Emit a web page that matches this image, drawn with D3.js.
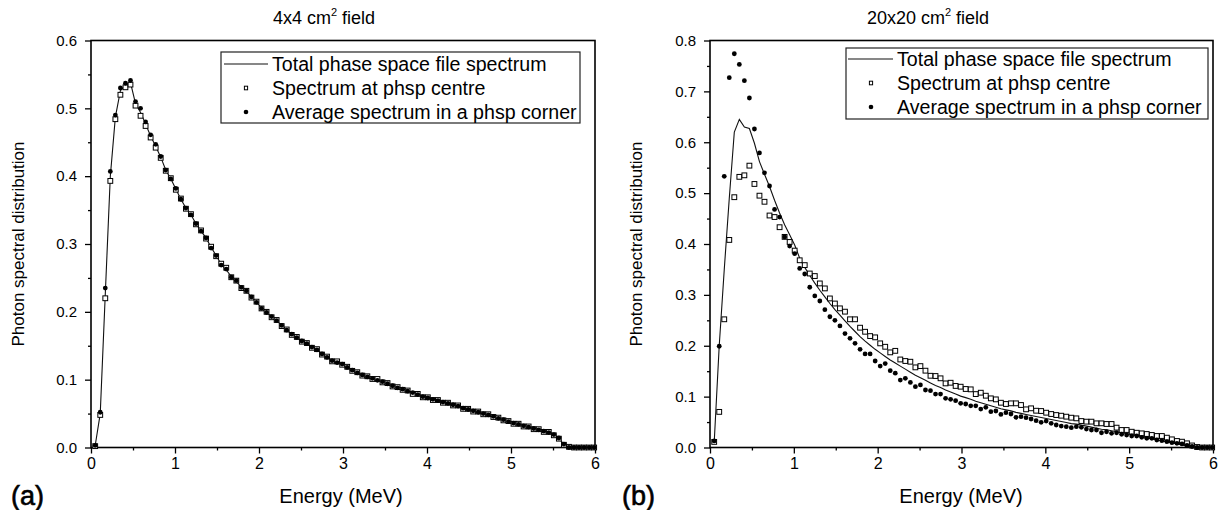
<!DOCTYPE html>
<html><head><meta charset="utf-8">
<script src="https://cdn.jsdelivr.net/npm/d3@7"></script>
<style>
body{margin:0;background:#fff}
svg{display:block}
text{font-family:"Liberation Sans",Arial,Helvetica,sans-serif;fill:#000}
</style>
</head><body>
<svg id="chart" width="1219" height="510"></svg>
<script>
// ---------------- DATA ----------------
const energy = [0.05,0.11,0.17,0.23,0.29,0.35,0.41,0.47,0.53,0.59,0.65,0.71,0.77,0.83,0.89,0.95,1.01,1.07,1.13,1.19,
1.25,1.31,1.37,1.43,1.49,1.55,1.61,1.67,1.73,1.79,1.85,1.91,1.97,2.03,2.09,2.15,2.21,2.27,2.33,2.39,
2.45,2.51,2.57,2.63,2.69,2.75,2.81,2.87,2.93,2.99,3.05,3.11,3.17,3.23,3.29,3.35,3.41,3.47,3.53,3.59,
3.65,3.71,3.77,3.83,3.89,3.95,4.01,4.07,4.13,4.19,4.25,4.31,4.37,4.43,4.49,4.55,4.61,4.67,4.73,4.79,
4.85,4.91,4.97,5.03,5.09,5.15,5.21,5.27,5.33,5.39,5.45,5.51,5.57,5.63,5.69,5.75,5.81,5.87,5.93,5.99];

// (a) 4x4 cm2 field
const leftTotal = [0.003,0.050,0.226,0.400,0.487,0.526,0.534,0.538,0.507,0.494,
0.477,0.459,0.444,0.428,0.409,0.396,0.381,0.366,0.353,0.343,
0.330,0.319,0.309,0.295,0.283,0.270,0.262,0.252,0.245,0.236,
0.230,0.222,0.214,0.206,0.199,0.193,0.187,0.180,0.173,0.167,
0.162,0.157,0.153,0.148,0.144,0.138,0.133,0.128,0.126,0.123,
0.118,0.114,0.110,0.107,0.104,0.102,0.100,0.097,0.094,0.091,
0.088,0.086,0.083,0.080,0.078,0.075,0.073,0.071,0.069,0.067,
0.065,0.063,0.061,0.058,0.056,0.054,0.052,0.050,0.048,0.046,
0.043,0.041,0.038,0.036,0.034,0.032,0.030,0.028,0.026,0.024,
0.022,0.019,0.014,0.004,0,0,0,0,0,0];
const leftCentre = [0.002,0.048,0.220,0.393,0.484,0.520,0.531,0.535,0.504,0.489,
0.474,0.457,0.442,0.427,0.408,0.397,0.380,0.367,0.352,0.344,
0.329,0.320,0.308,0.296,0.282,0.271,0.265,0.251,0.246,0.235,
0.231,0.221,0.215,0.205,0.200,0.192,0.188,0.179,0.174,0.166,
0.163,0.156,0.154,0.147,0.145,0.137,0.134,0.127,0.127,0.122,
0.119,0.113,0.111,0.106,0.105,0.101,0.101,0.096,0.095,0.090,
0.089,0.085,0.084,0.079,0.079,0.074,0.074,0.070,0.070,0.066,
0.066,0.062,0.062,0.057,0.057,0.053,0.053,0.049,0.049,0.045,
0.044,0.040,0.039,0.035,0.035,0.031,0.031,0.027,0.027,0.023,
0.023,0.018,0.013,0.004,0.001,0,0,0,0,0];
const leftCorner = [0.003,0.052,0.235,0.407,0.490,0.530,0.537,0.541,0.510,0.500,
0.480,0.461,0.447,0.429,0.409,0.396,0.382,0.366,0.353,0.343,
0.330,0.319,0.309,0.294,0.283,0.269,0.263,0.251,0.246,0.236,
0.231,0.222,0.214,0.205,0.199,0.193,0.187,0.180,0.173,0.167,
0.162,0.157,0.153,0.148,0.144,0.138,0.133,0.128,0.125,0.123,
0.118,0.114,0.110,0.107,0.104,0.102,0.099,0.097,0.094,0.091,
0.088,0.086,0.083,0.081,0.078,0.075,0.073,0.071,0.069,0.067,
0.065,0.063,0.061,0.058,0.056,0.054,0.052,0.050,0.048,0.046,
0.043,0.041,0.038,0.036,0.034,0.032,0.030,0.028,0.026,0.024,
0.022,0.019,0.014,0.005,0,0,0,0,0,0];

// (b) 20x20 cm2 field
const rightTotal = [0.010,0.200,0.350,0.490,0.620,0.645,0.630,0.627,0.598,0.562,
0.537,0.513,0.486,0.461,0.438,0.418,0.398,
0.372,0.354,0.338,0.323,0.309,0.296,0.283,0.271,0.260,0.249,0.238,0.228,0.218,0.209,0.201,0.193,0.186,0.179,0.172,0.166,
0.160,0.154,0.148,0.142,0.137,0.132,0.127,0.122,0.118,0.113,0.109,0.105,0.101,0.098,0.095,0.091,0.088,0.085,0.082,0.079,
0.076,0.074,0.072,0.069,0.067,0.065,0.063,0.061,0.059,0.057,0.055,0.053,0.051,0.049,0.047,0.046,0.044,0.042,0.040,0.038,
0.036,0.035,0.033,0.031,0.029,0.027,0.025,0.023,0.021,0.019,0.017,0.015,0.013,0.011,0.009,0.007,0.005,0.003,0.001,0,0,0,0];
const rightCentre = [0.011,0.070,0.252,0.408,0.492,0.532,0.535,0.554,0.518,0.495,
0.483,0.456,0.453,0.433,0.414,0.404,0.387,
0.368,0.3585,0.342,0.337,0.3225,0.3127,0.293,0.283,0.2735,0.267,0.252,0.252,0.2355,0.2275,0.219,0.2165,0.2047,0.198,0.187,0.190,
0.173,0.170,0.1686,0.1575,0.160,0.151,0.141,0.1405,0.136,0.126,0.1273,0.121,0.1195,0.115,0.1143,0.105,0.1077,0.1018,0.0966,0.0946,
0.088,0.0855,0.0868,0.0868,0.0835,0.075,0.077,0.0723,0.0717,0.0684,0.0658,0.0638,0.0625,0.0606,0.0586,0.0573,0.052,0.0508,0.0508,0.0475,
0.0475,0.0462,0.0462,0.039,0.0344,0.0344,0.031,0.029,0.0278,0.0265,0.0246,0.0226,0.0226,0.0193,0.016,0.0128,0.0114,0.0082,
0.004,0.001,0,0,0];
const rightCorner = [0.013,0.199,0.533,0.727,0.774,0.753,0.721,0.687,0.626,0.579,
0.540,0.514,0.468,0.453,0.414,0.396,0.381,
0.352,0.341,0.315,0.298,0.288,0.271,0.257,0.250,0.239,0.224,0.2145,0.2047,0.193,0.184,0.184,0.170,0.160,0.165,0.151,0.146,
0.1326,0.136,0.128,0.1195,0.123,0.113,0.1116,0.105,0.105,0.0966,0.0946,0.092,0.0868,0.0855,0.082,0.082,0.0756,0.079,0.0704,0.0717,
0.065,0.0684,0.0658,0.0593,0.0606,0.0586,0.056,0.0527,0.0495,0.052,0.0475,0.0442,0.0422,0.041,0.039,0.041,0.0396,0.0363,0.0344,0.0344,
0.029,0.031,0.0278,0.029,0.026,0.0246,0.0226,0.0226,0.020,0.018,0.018,0.0147,0.0134,0.0114,0.0095,0.0082,0.007,
0.004,0.002,0,0,0,0];

const xTicks = [0,1,2,3,4,5,6];
const xMinorTicks = [0.5,1.5,2.5,3.5,4.5,5.5];
const leftYTicks = [0,0.1,0.2,0.3,0.4,0.5,0.6];
const leftYMinor = [0.05,0.15,0.25,0.35,0.45,0.55];
const rightYTicks = [0,0.1,0.2,0.3,0.4,0.5,0.6,0.7,0.8];
const rightYMinor = [0.05,0.15,0.25,0.35,0.45,0.55,0.65,0.75];
const legendLabels = ["Total phase space file spectrum","Spectrum at phsp centre","Average spectrum in a phsp corner"];
const titles = [["4x4 cm","2"," field"],["20x20 cm","2"," field"]];
const panelTags = ["(a)","(b)"];
const xLabel = "Energy (MeV)";
const yLabel = "Photon spectral distribution";

// ---------------- LAYOUT ----------------
const panels = [
  {x0:91, x1:595, yMax:0.6, yTicks:leftYTicks, yMinor:leftYMinor,
   total:leftTotal, centre:leftCentre, corner:leftCorner,
   title:titles[0], titleX:324, yLabX:18, tag:panelTags[0], tagX:11, xLabX:341,
   leg:{x:221, y:52, w:359, h:71, lx0:224, lx1:268, mx:246, tx:272, rows:[64,88,112]}},
  {x0:710, x1:1213, yMax:0.8, yTicks:rightYTicks, yMinor:rightYMinor,
   total:rightTotal, centre:rightCentre, corner:rightCorner,
   title:titles[1], titleX:928, yLabX:636, tag:panelTags[1], tagX:622, xLabX:961,
   leg:{x:846, y:48, w:362, h:71, lx0:848, lx1:893, mx:871, tx:897, rows:[59,83,107]}}
];
const yTop = 40.5, yBot = 447.5;

const svg = d3.select("#chart");

panels.forEach(p => {
  const x = d3.scaleLinear().domain([0,6]).range([p.x0,p.x1]);
  const y = d3.scaleLinear().domain([0,p.yMax]).range([yBot,yTop]);
  const g = svg.append("g");

  // minor ticks
  g.append("g").attr("transform",`translate(0,${yBot})`)
    .call(d3.axisBottom(x).tickValues(xMinorTicks).tickSize(3).tickFormat(""))
    .call(a=>a.select(".domain").remove());
  g.append("g").attr("transform",`translate(${p.x0},0)`)
    .call(d3.axisLeft(y).tickValues(p.yMinor).tickSize(3).tickFormat(""))
    .call(a=>a.select(".domain").remove());
  // major ticks
  const xa = g.append("g").attr("transform",`translate(0,${yBot})`)
    .call(d3.axisBottom(x).tickValues(xTicks).tickSize(6).tickPadding(4).tickFormat(d3.format("d")));
  xa.select(".domain").remove();
  xa.selectAll("text").attr("font-size",16).style("font-family",'"Liberation Sans",Arial,sans-serif');
  const ya = g.append("g").attr("transform",`translate(${p.x0},0)`)
    .call(d3.axisLeft(y).tickValues(p.yTicks).tickSize(6).tickPadding(8).tickFormat(d3.format(".1f")));
  ya.select(".domain").remove();
  ya.selectAll("text").attr("font-size",15).style("font-family",'"Liberation Sans",Arial,sans-serif');
  g.selectAll(".tick line").attr("stroke","#000").attr("stroke-width",1.3);

  // frame
  g.append("rect").attr("x",p.x0).attr("y",yTop).attr("width",p.x1-p.x0).attr("height",yBot-yTop)
    .attr("fill","none").attr("stroke","#000").attr("stroke-width",1.6);

  // data line
  const line = d3.line().x((d,i)=>x(energy[i])).y(d=>y(d));
  g.append("path").datum(p.total).attr("d",line).attr("fill","none")
    .attr("stroke","#111").attr("stroke-width",1.1);
  // squares (centre)
  g.append("g").selectAll("rect").data(p.centre).join("rect")
    .attr("x",(d,i)=>x(energy[i])-2.4).attr("y",d=>y(d)-2.4)
    .attr("width",4.8).attr("height",4.8)
    .attr("fill","#fff").attr("stroke","#000").attr("stroke-width",1);
  // circles (corner)
  g.append("g").selectAll("circle").data(p.corner).join("circle")
    .attr("cx",(d,i)=>x(energy[i])).attr("cy",d=>y(d)).attr("r",2.4).attr("fill","#000");

  // legend
  const L = p.leg;
  const lg = g.append("g");
  lg.append("rect").attr("x",L.x).attr("y",L.y).attr("width",L.w).attr("height",L.h)
    .attr("fill","#fff").attr("stroke","#222").attr("stroke-width",1.2);
  lg.append("line").attr("x1",L.lx0).attr("x2",L.lx1).attr("y1",L.rows[0]).attr("y2",L.rows[0])
    .attr("stroke","#111").attr("stroke-width",1.1);
  lg.append("rect").attr("x",L.mx-1.6).attr("y",L.rows[1]-1.8).attr("width",3.2).attr("height",3.6)
    .attr("fill","#fff").attr("stroke","#000").attr("stroke-width",1);
  lg.append("circle").attr("cx",L.mx).attr("cy",L.rows[2]).attr("r",2.3).attr("fill","#000");
  legendLabels.forEach((t,i)=>{
    lg.append("text").attr("x",L.tx).attr("y",L.rows[i]+7).attr("font-size",19.6).text(t);
  });

  // title
  const tt = g.append("text").attr("x",p.titleX).attr("y",24).attr("text-anchor","middle").attr("font-size",18);
  tt.append("tspan").text(p.title[0]);
  tt.append("tspan").attr("dy",-8).attr("font-size",11).text(p.title[1]);
  tt.append("tspan").attr("dy",8).text(p.title[2]);

  // axis labels
  g.append("text").attr("x",p.xLabX).attr("y",503).attr("text-anchor","middle").attr("font-size",20).text(xLabel);
  g.append("text").attr("transform",`translate(${p.yLabX + 6},${(yTop+yBot)/2}) rotate(-90)`)
    .attr("text-anchor","middle").attr("font-size",17).text(yLabel);
  g.append("text").attr("x",p.tagX).attr("y",505).attr("font-size",27)
    .attr("stroke","#000").attr("stroke-width",0.6).text(p.tag);
});
</script>
</body></html>
